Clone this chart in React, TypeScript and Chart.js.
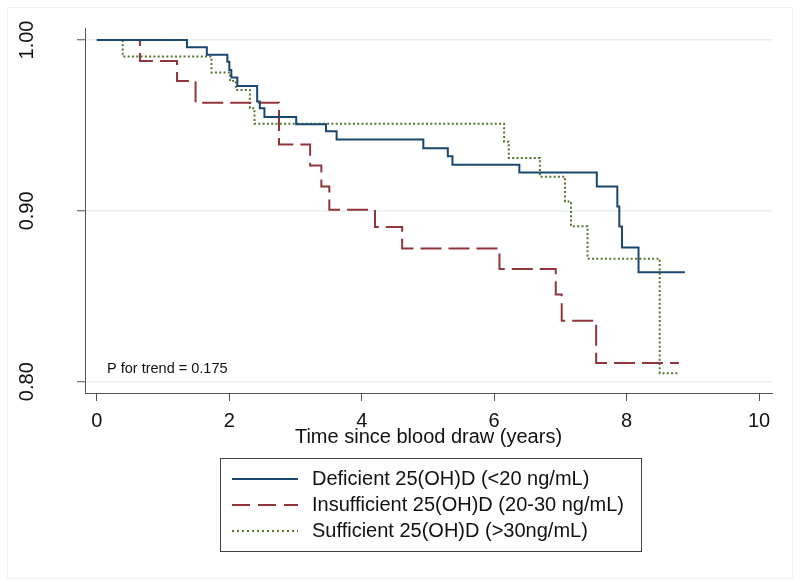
import React, { useEffect, useRef } from "react";
import { Chart, registerables } from "chart.js";

Chart.register(...registerables);

// ---- data ----
const xTicks = [0, 2, 4, 6, 8, 10];
const yTicks = [0.8, 0.9, 1.0];
const yTickLabels = ["0.80", "0.90", "1.00"];
const xTitle = "Time since blood draw (years)";
const pTrendText = "P for trend = 0.175";

const seriesLabels = [
  "Deficient 25(OH)D (<20 ng/mL)",
  "Insufficient 25(OH)D (20-30 ng/mL)",
  "Sufficient 25(OH)D (>30ng/mL)",
];

const deficientT = [0, 1.36, 1.66, 1.97, 2.0, 2.03, 2.12, 2.42, 2.46, 2.53, 3.01, 3.46, 3.62, 4.93, 5.3, 5.37, 6.38, 7.55, 7.86, 7.89, 7.93, 8.18, 8.88];
const deficientS = [1.0, 0.9957, 0.9914, 0.9873, 0.9825, 0.978, 0.9731, 0.964, 0.96, 0.955, 0.9507, 0.9466, 0.9417, 0.9367, 0.932, 0.927, 0.9225, 0.9143, 0.9025, 0.8909, 0.8786, 0.864, 0.864];

const insufficientT = [0, 0.65, 1.21, 1.49, 2.75, 3.22, 3.39, 3.51, 4.2, 4.61, 6.08, 6.93, 7.02, 7.54, 8.79];
const insufficientS = [1.0, 0.9877, 0.976, 0.9633, 0.9388, 0.9265, 0.9143, 0.9006, 0.8905, 0.878, 0.8659, 0.851, 0.8357, 0.811, 0.811];

const sufficientT = [0, 0.39, 1.73, 2.01, 2.1, 2.31, 2.38, 6.15, 6.22, 6.69, 7.07, 7.16, 7.41, 8.5, 8.79];
const sufficientS = [1.0, 0.9903, 0.981, 0.976, 0.9708, 0.96, 0.951, 0.9405, 0.931, 0.92, 0.9055, 0.891, 0.872, 0.805, 0.805];

const COLORS = ["#1a476f", "#90353b", "#55752f"];
const DASHES: number[][] = [[], [21, 7], [2, 2.3]];
const LEGEND_DASHES: number[][] = [[], [18, 8], [2, 3]];
const FONT = '"Liberation Sans", Arial, Helvetica, sans-serif';

const toPoints = (t: number[], s: number[]) => t.map((x, i) => ({ x, y: s[i] }));

const decorPlugin = {
  id: "decor",
  beforeDraw(chart: any) {
    const ctx = chart.ctx;
    ctx.save();
    ctx.fillStyle = "#ffffff";
    ctx.fillRect(0, 0, chart.width, chart.height);
    ctx.strokeStyle = "#f0f0f0";
    ctx.lineWidth = 1;
    ctx.strokeRect(7.5, 7.5, 785, 571);
    ctx.restore();
  },
  afterDraw(chart: any) {
    const ctx = chart.ctx;
    const ys = chart.scales.y;
    ctx.save();
    // rotated y tick labels
    ctx.fillStyle = "#111";
    ctx.font = `20px ${FONT}`;
    ctx.textAlign = "center";
    ctx.textBaseline = "alphabetic";
    yTicks.forEach((v, i) => {
      const py = ys.getPixelForValue(v);
      ctx.save();
      ctx.translate(33, py);
      ctx.rotate(-Math.PI / 2);
      ctx.fillText(yTickLabels[i], 0, 0);
      ctx.restore();
    });
    // P for trend
    ctx.font = `14.5px ${FONT}`;
    ctx.textAlign = "left";
    ctx.fillText(pTrendText, 107, 373);
    // legend
    const bx = 220, by = 458, bw = 421, bh = 93;
    ctx.strokeStyle = "#444";
    ctx.lineWidth = 1;
    ctx.strokeRect(bx + 0.5, by + 0.5, bw, bh);
    const rowY = [479, 505, 531];
    chart.data.datasets.forEach((ds: any, i: number) => {
      const y = rowY[i];
      ctx.beginPath();
      ctx.setLineDash(LEGEND_DASHES[i]);
      ctx.strokeStyle = COLORS[i];
      ctx.lineWidth = 2;
      ctx.moveTo(232, y);
      ctx.lineTo(298, y);
      ctx.stroke();
      ctx.setLineDash([]);
      ctx.fillStyle = "#111";
      ctx.font = `20px ${FONT}`;
      ctx.textBaseline = "middle";
      ctx.fillText(ds.label, 312, y);
    });
    ctx.restore();
  },
};

export default function App() {
  const ref = useRef<HTMLCanvasElement | null>(null);
  useEffect(() => {
    if (!ref.current) return;
    const series = [
      [deficientT, deficientS],
      [insufficientT, insufficientS],
      [sufficientT, sufficientS],
    ];
    const chart = new Chart(ref.current, {
      type: "line",
      data: {
        datasets: series.map(([t, s], i) => ({
          label: seriesLabels[i],
          data: toPoints(t, s),
          borderColor: COLORS[i],
          borderWidth: 2,
          borderDash: DASHES[i],
          stepped: "before" as const,
          pointRadius: 0,
          fill: false,
          tension: 0,
        })),
      },
      options: {
        animation: false,
        responsive: false,
        devicePixelRatio: 1,
        layout: { padding: { left: 0, right: 28, top: 28, bottom: 136 } },
        plugins: { legend: { display: false }, tooltip: { enabled: false } },
        scales: {
          x: {
            type: "linear",
            min: -0.18,
            max: 10.196,
            afterBuildTicks: (s: any) => {
              s.ticks = xTicks.map((v) => ({ value: v }));
            },
            afterFit: (s: any) => {
              s.height = 56;
            },
            ticks: {
              color: "#111",
              font: { family: FONT, size: 20 },
              padding: 8,
              maxRotation: 0,
              autoSkip: false,
              callback: (v: any) => String(v),
            },
            grid: { drawOnChartArea: false, drawTicks: true, tickLength: 8, tickColor: "#555", tickWidth: 1 },
            border: { display: true, color: "#555", width: 1 },
            title: {
              display: true,
              text: xTitle,
              color: "#111",
              font: { family: FONT, size: 20 },
              padding: { top: 0, bottom: 0 },
            },
          },
          y: {
            type: "linear",
            min: 0.79339,
            max: 1.00702,
            afterBuildTicks: (s: any) => {
              s.ticks = yTicks.map((v) => ({ value: v }));
            },
            afterFit: (s: any) => {
              s.width = 85;
            },
            ticks: { display: false },
            grid: { color: "#e8eef2", lineWidth: 1.5, drawTicks: true, tickLength: 8, tickColor: "#555", tickWidth: 1 },
            border: { display: true, color: "#555", width: 1 },
          },
        },
      },
      plugins: [decorPlugin],
    } as any);
    return () => chart.destroy();
  }, []);
  return (
    <div style={{ position: "fixed", left: 0, top: 0, width: 800, height: 585, background: "#fff" }}>
      <canvas ref={ref} width={800} height={585} style={{ display: "block", width: 800, height: 585 }} />
    </div>
  );
}
